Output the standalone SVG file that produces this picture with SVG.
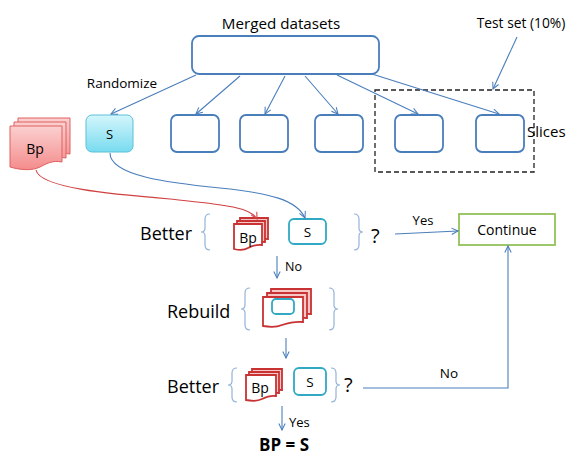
<svg xmlns="http://www.w3.org/2000/svg" width="582" height="466" viewBox="0 0 582 466">
<defs>
<marker id="ab" viewBox="0 0 10 10" refX="9" refY="5" markerWidth="8" markerHeight="8" orient="auto" markerUnits="userSpaceOnUse"><path d="M1,1 L9,5 L1,9" fill="none" stroke="#4a7ebb" stroke-width="1.3"/></marker>
<marker id="ar" viewBox="0 0 10 10" refX="9" refY="5" markerWidth="8" markerHeight="8" orient="auto" markerUnits="userSpaceOnUse"><path d="M1,1 L9,5 L1,9" fill="none" stroke="#d04040" stroke-width="1.3"/></marker>
<linearGradient id="gp" x1="0" y1="0" x2="0" y2="1"><stop offset="0" stop-color="#fbd0d0"/><stop offset="1" stop-color="#f48c8c"/></linearGradient>
<linearGradient id="gc" x1="0" y1="0" x2="0" y2="1"><stop offset="0" stop-color="#d4f6fc"/><stop offset="1" stop-color="#78dbef"/></linearGradient>
</defs>
<style>
text{font-family:"Open Sans","Liberation Sans",sans-serif;fill:#000}
.slice{fill:#fff;stroke:#4a7ebb;stroke-width:1.8}
.ln{fill:none;stroke:#4a7ebb;stroke-width:1.1}
.br{fill:none;stroke:#95b3d7;stroke-width:1.2}
.pg{fill:#fff;stroke:#c83232;stroke-width:1.8}
.pgb{fill:#f7c6c6;stroke:#c83232;stroke-width:1.8}
.bpb{fill:url(#gp);stroke:#e06060;stroke-width:1}
.sb{fill:#fff;stroke:#31a9c4;stroke-width:1.8}
</style>

<g id="merged">
<text x="281" y="29" font-size="15.2" text-anchor="middle">Merged datasets</text>
<rect x="192" y="36" width="187" height="38" rx="7" class="slice"/>
</g>
<text x="122" y="88" font-size="13.5" text-anchor="middle">Randomize</text>

<g id="bp-big">
<path class="bpb" d="M18,118 H70 V154 C60,152 54,156 48,159 C40,163 28,162 18,159 Z"/>
<path class="bpb" d="M14,122 H66 V158 C56,156 50,160 44,163 C36,167 24,166 14,163 Z"/>
<path class="bpb" d="M10,126 H62 V162 C52,160 46,164 40,167 C32,171 20,170 10,167 Z"/>
<text x="35" y="154" font-size="14" text-anchor="middle">Bp</text>
</g>
<g id="s-big">
<rect x="86" y="115" width="47" height="37" rx="6" fill="url(#gc)" stroke="#5cc0d8" stroke-width="1"/>
<text x="109.5" y="139" font-size="13" text-anchor="middle">S</text>
</g>
<g id="slice2"><rect x="171" y="115" width="48" height="37" rx="6" class="slice"/></g>
<g id="slice3"><rect x="240" y="115" width="48" height="37" rx="6" class="slice"/></g>
<g id="slice4"><rect x="315" y="115" width="48" height="37" rx="6" class="slice"/></g>
<g id="slice5"><rect x="395" y="115" width="48" height="37" rx="6" class="slice"/></g>
<g id="slice6"><rect x="476" y="115" width="48" height="37" rx="6" class="slice"/></g>
<g id="testset">
<rect x="375" y="90" width="159" height="82" fill="none" stroke="#222" stroke-width="1.3" stroke-dasharray="5,3"/>
<text x="521" y="28" font-size="13.8" text-anchor="middle">Test set (10%)</text>
<text x="527" y="137" font-size="15">Slices</text>
</g>

<g id="better1">
<text x="140" y="240" font-size="18">Better</text>
<path class="br" d="M210,214 Q205,214 205,219 V228 Q205,232 201,232 Q205,232 205,236 V245 Q205,250 210,250"/>
<path class="br" d="M354,214 Q359,214 359,219 V228 Q359,232 363,232 Q359,232 359,236 V245 Q359,250 354,250"/>
<path class="pgb" d="M240,218 H268 V239 C262,238 258,240 254,242 C249,245 244,244 240,243 Z"/>
<path class="pgb" d="M237,221 H265 V242 C259,241 255,243 251,245 C246,248 241,247 237,246 Z"/>
<path class="pg" d="M234,224 H262 V245 C256,244 252,246 248,248 C243,251 238,250 234,249 Z"/>
<text x="248" y="243" font-size="14" text-anchor="middle">Bp</text>
<rect x="289" y="219" width="37" height="25" rx="5" class="sb"/>
<text x="307.5" y="237" font-size="13.5" text-anchor="middle">S</text>
<text x="371" y="243" font-size="20">?</text>
</g>

<g id="continue">
<rect x="459" y="214" width="96" height="31" fill="#fff" stroke="#92c15a" stroke-width="1.8"/>
<text x="507" y="235" font-size="14" text-anchor="middle">Continue</text>
</g>

<g id="rebuild">
<text x="167" y="318" font-size="18">Rebuild</text>
<path class="br" d="M250,288 Q245,288 245,293 V305 Q245,309 241,309 Q245,309 245,313 V325 Q245,330 250,330"/>
<path class="br" d="M329,288 Q334,288 334,293 V305 Q334,309 338,309 Q334,309 334,313 V325 Q334,330 329,330"/>
<path class="pgb" d="M271,289 H311 V314 C302,313 296,315 290,317 C283,320 277,319 271,318 Z"/>
<path class="pgb" d="M267,293 H307 V318 C298,317 292,319 286,321 C279,324 273,323 267,322 Z"/>
<path class="pg" d="M263,297 H303 V322 C294,321 288,323 282,325 C275,328 269,327 263,326 Z"/>
<rect x="272" y="299" width="22" height="15" rx="4" fill="#fff" stroke="#31a9c4" stroke-width="1.8"/>
</g>

<g id="better2">
<text x="167" y="393" font-size="18">Better</text>
<path class="br" d="M237,368 Q232,368 232,373 V381 Q232,385 228,385 Q232,385 232,389 V397 Q232,402 237,402"/>
<path class="br" d="M331,368 Q336,368 336,373 V381 Q336,385 340,385 Q336,385 336,389 V397 Q336,402 331,402"/>
<path class="pgb" d="M252,369 H282 V390 C276,389 272,391 268,393 C262,396 257,395 252,394 Z"/>
<path class="pgb" d="M249,372 H279 V393 C273,392 269,394 265,396 C259,399 254,398 249,397 Z"/>
<path class="pg" d="M246,375 H276 V396 C270,395 266,397 262,399 C256,402 251,401 246,400 Z"/>
<text x="260" y="393" font-size="14" text-anchor="middle">Bp</text>
<rect x="294" y="368" width="32" height="27" rx="5" class="sb"/>
<text x="310" y="387" font-size="13.5" text-anchor="middle">S</text>
<text x="344" y="392" font-size="20">?</text>
</g>

<g id="result">
<text x="284" y="451" font-size="17" font-weight="bold" text-anchor="middle">BP = S</text>
</g>

<g id="connectors">
<path class="ln" d="M196,75 L111,114" marker-end="url(#ab)"/>
<path class="ln" d="M240,76 L196,114" marker-end="url(#ab)"/>
<path class="ln" d="M285,76 L265,114" marker-end="url(#ab)"/>
<path class="ln" d="M305,76 L338,114" marker-end="url(#ab)"/>
<path class="ln" d="M337,75 L418,114" marker-end="url(#ab)"/>
<path class="ln" d="M372,74 L499,114" marker-end="url(#ab)"/>
<path class="ln" d="M517,37 L493,89" marker-end="url(#ab)"/>
<path fill="none" stroke="#d04040" stroke-width="1.1" d="M36,170 C40,188 110,194 170,199 C215,204 250,206 257,219" marker-end="url(#ar)"/>
<path class="ln" d="M110,153 C110,176 170,183 220,188 C270,193 297,200 305,218" marker-end="url(#ab)"/>
<path class="ln" d="M395,234 L458,231" marker-end="url(#ab)"/>
<text x="423" y="225" font-size="13" text-anchor="middle">Yes</text>
<path class="ln" d="M277,256 L277,278" marker-end="url(#ab)"/>
<text x="285" y="271" font-size="12.5">No</text>
<path class="ln" d="M286,338 L286,358" marker-end="url(#ab)"/>
<path class="ln" d="M363,388 H508 V246" marker-end="url(#ab)"/>
<text x="449" y="378" font-size="13.5" text-anchor="middle">No</text>
<path class="ln" d="M282,406 L282,430" marker-end="url(#ab)"/>
<text x="289" y="427" font-size="13">Yes</text>
</g>
</svg>
